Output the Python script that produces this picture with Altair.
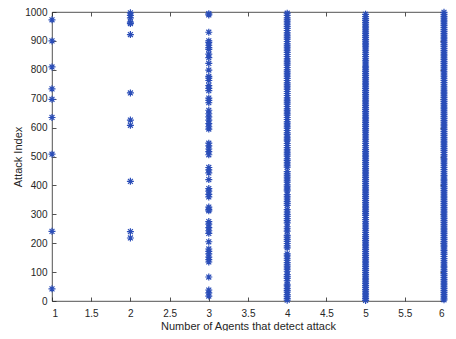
import altair as alt
import pandas as pd

x_ticks = [1, 1.5, 2, 2.5, 3, 3.5, 4, 4.5, 5, 5.5, 6]
y_ticks = [0, 100, 200, 300, 400, 500, 600, 700, 800, 900, 1000]

agents1 = [973, 900, 810, 734, 698, 635, 508, 241, 42]
agents2 = [997, 988, 980, 965, 960, 922, 720, 626, 608, 414, 240, 218]
agents3 = [994, 990, 930, 900, 894, 885, 877, 871, 854, 842, 822, 799, 777, 771, 763,
           745, 736, 728, 702, 694, 686, 660, 648, 637, 626, 614, 603, 595, 546, 537,
           526, 517, 506, 462, 454, 443, 420, 389, 380, 369, 360, 325, 317, 312, 275,
           266, 254, 243, 234, 205, 180, 172, 163, 152, 143, 135, 83, 38, 28, 17]
agents4 = [3, 9, 16, 22, 31, 37, 44, 52, 58, 70, 78, 84, 91, 103, 110, 118, 125, 133,
           141, 148, 156, 163, 184, 191, 199, 206, 213, 221, 227, 242, 250, 257, 270,
           278, 285, 293, 300, 308, 316, 331, 338, 345, 353, 360, 368, 381, 387, 395,
           402, 411, 418, 426, 433, 440, 448, 463, 470, 478, 486, 492, 501, 508, 515,
           523, 531, 538, 545, 554, 560, 567, 576, 582, 590, 598, 605, 613, 620, 628,
           635, 643, 650, 658, 665, 673, 681, 688, 695, 703, 711, 718, 725, 733, 741,
           748, 755, 763, 770, 778, 786, 793, 800, 808, 816, 823, 830, 838, 846, 853,
           860, 868, 876, 883, 890, 898, 906, 913, 920, 928, 936, 943, 950, 958, 966,
           973, 980, 988, 996]
agents5 = [2, 8, 14, 21, 27, 34, 40, 47, 53, 60, 66, 73, 79, 86, 92, 99, 106, 112,
           119, 125, 132, 138, 145, 151, 158, 164, 171, 178, 184, 191, 197, 204, 210,
           217, 223, 230, 237, 243, 250, 256, 263, 269, 276, 282, 289, 296, 302, 309,
           315, 322, 328, 335, 341, 348, 355, 361, 368, 374, 381, 387, 394, 400, 407,
           414, 420, 427, 433, 440, 446, 453, 459, 466, 473, 479, 486, 492, 499, 505,
           512, 518, 525, 532, 538, 545, 551, 558, 564, 571, 577, 584, 591, 597, 604,
           610, 617, 623, 630, 636, 643, 650, 656, 663, 669, 676, 682, 689, 695, 702,
           709, 715, 722, 728, 735, 741, 748, 754, 761, 768, 774, 781, 787, 794, 800,
           807, 813, 820, 827, 833, 840, 846, 853, 859, 866, 872, 879, 886, 892, 899,
           905, 912, 918, 925, 931, 938, 945, 951, 958, 964, 971, 977, 984, 992]
agents6 = [4, 10, 17, 23, 30, 36, 43, 49, 56, 62, 69, 75, 82, 89, 95, 102, 108, 115,
           121, 128, 134, 141, 147, 154, 161, 167, 174, 180, 187, 193, 200, 206, 213,
           219, 226, 233, 239, 246, 252, 259, 265, 272, 278, 285, 291, 298, 305, 311,
           318, 324, 331, 337, 344, 350, 357, 363, 370, 377, 383, 390, 396, 403, 409,
           416, 422, 429, 435, 442, 449, 455, 462, 468, 475, 481, 488, 494, 501, 507,
           514, 521, 527, 534, 540, 547, 553, 560, 566, 573, 579, 586, 593, 599, 606,
           612, 619, 625, 632, 638, 645, 651, 658, 665, 671, 678, 684, 691, 697, 704,
           710, 717, 723, 730, 737, 743, 750, 756, 763, 769, 776, 782, 789, 795, 802,
           809, 815, 822, 828, 835, 841, 848, 854, 861, 867, 874, 881, 887, 894, 900,
           907, 913, 920, 926, 933, 939, 946, 953, 959, 966, 972, 979, 985, 992, 999]

rows = []
for n, vals in [(1, agents1), (2, agents2), (3, agents3), (4, agents4), (5, agents5), (6, agents6)]:
    for v in vals:
        rows.append({"agents": n, "index": v})
df = pd.DataFrame(rows)

asterisk = "M-1,0L1,0M0,-1L0,1M-0.7,-0.7L0.7,0.7M-0.7,0.7L0.7,-0.7"
blue = "#2a4db8"
axis_color = "#262626"
font = "Liberation Sans"

xscale = alt.Scale(domain=[1, 6], nice=False, zero=False)
yscale = alt.Scale(domain=[0, 1000], nice=False, zero=True)

common_axis = dict(domain=False, ticks=True, tickSize=4, offset=-4, grid=False,
                   tickColor=axis_color, labelColor=axis_color, titleColor=axis_color,
                   labelFont=font, titleFont=font, labelFontSize=10, titleFontSize=11,
                   titleFontWeight="normal", tickWidth=0.8)

points = alt.Chart(df).mark_point(
    shape=asterisk, filled=False, size=49, strokeWidth=1.2, color=blue, opacity=1
).encode(
    x=alt.X("agents:Q", scale=xscale,
            axis=alt.Axis(values=x_ticks, format="~g", orient="bottom",
                          title="Number of Agents that detect attack",
                          labelPadding=7, titlePadding=2, **common_axis)),
    y=alt.Y("index:Q", scale=yscale,
            axis=alt.Axis(values=y_ticks, format="d", orient="left", title="Attack Index",
                          labelPadding=5, titlePadding=1, **common_axis)),
)

frame = alt.Chart(df).mark_point(opacity=0).encode(
    x=alt.X("agents:Q", scale=xscale,
            axis=alt.Axis(values=x_ticks, orient="top", labels=False, title=None, **common_axis)),
    y=alt.Y("index:Q", scale=yscale,
            axis=alt.Axis(values=y_ticks, orient="right", labels=False, title=None, **common_axis)),
)

chart = alt.layer(points, frame).resolve_axis(x="independent", y="independent").properties(
    width=392, height=289,
    autosize=alt.AutoSizeParams(type="none"),
    padding={"left": 44, "top": 4, "right": 4, "bottom": 30},
).configure_view(stroke=axis_color, strokeWidth=0.8)

chart.save("out.html", embed_options={"renderer": "svg", "actions": False})
